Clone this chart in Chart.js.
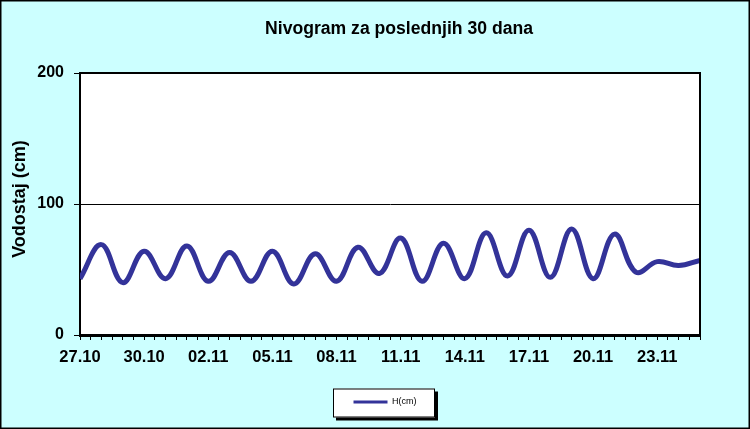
<!DOCTYPE html>
<html lang="sr">
<head>
<meta charset="UTF-8">
<title>Nivogram</title>
<script src="https://cdn.jsdelivr.net/npm/chart.js"></script>
<style>
  html, body { margin: 0; padding: 0; background: #ccffff; }
  #wrap { width: 750px; height: 429px; }
  canvas { display: block; background: #ccffff; }
</style>
</head>
<body>
<div id="wrap"><canvas id="chart" width="750" height="429"></canvas></div>
<script>
// datumi (jedan po danu)
const dates = ['27.10','28.10','29.10','30.10','31.10','01.11','02.11','03.11','04.11','05.11',
  '06.11','07.11','08.11','09.11','10.11','11.11','12.11','13.11','14.11','15.11',
  '16.11','17.11','18.11','19.11','20.11','21.11','22.11','23.11','24.11','25.11'];
// vodostaj H (cm)
const levels = [43, 69, 40, 64, 43, 68, 41, 63, 41, 64, 39, 62, 41, 67, 47, 74, 41, 70, 43, 78,
  45, 80, 44, 81, 43, 77, 48, 56, 53, 57];
const yTicks = [0, 100, 200];

const FONT = "Arial, 'Liberation Sans', sans-serif";

const frame = {
  id: 'frame',
  afterLayout(chart) {
    // pomjeri naslov i legendu kao u originalu
    chart.titleBlock.left += 49; chart.titleBlock.right += 49;
    chart.legend.left += 35; chart.legend.right += 35;
  },
  beforeDraw(chart) {
    const {ctx, chartArea: a, legend} = chart;
    ctx.save();
    ctx.fillStyle = '#ffffff';
    ctx.fillRect(a.left, a.top, a.right - a.left, a.bottom - a.top);
    // okvir legende sa sjenkom
    const cx = (legend.left + legend.right) / 2;
    const bx = cx - 52, by = legend.top + 1, bw = 102, bh = 29;
    ctx.fillStyle = '#000';
    ctx.fillRect(bx + 3, by + 3, bw, bh);
    ctx.fillStyle = '#fff';
    ctx.fillRect(bx, by, bw, bh);
    ctx.strokeStyle = '#000';
    ctx.lineWidth = 1;
    ctx.strokeRect(bx + 0.5, by + 0.5, bw - 1, bh - 1);
    ctx.restore();
  },
  afterDraw(chart) {
    const {ctx, chartArea: a} = chart;
    ctx.save();
    ctx.strokeStyle = '#000';
    ctx.lineWidth = 2;
    ctx.beginPath();
    ctx.moveTo(a.left, a.top); ctx.lineTo(a.right, a.top); ctx.lineTo(a.right, a.bottom);
    ctx.stroke();
    ctx.lineWidth = 1.5;
    ctx.strokeRect(0.75, 0.75, chart.width - 1.5, chart.height - 1.5);
    ctx.restore();
  }
};

new Chart(document.getElementById('chart'), {
  type: 'line',
  data: {
    datasets: [{
      label: 'H(cm)',
      data: levels.map((v, i) => ({x: i, y: v})),
      borderColor: '#333399',
      backgroundColor: '#333399',
      borderWidth: 5,
      pointRadius: 0,
      tension: 0.4,
      fill: false
    }]
  },
  options: {
    responsive: false,
    animation: false,
    parsing: false,
    layout: { padding: { left: 0, right: 50, top: 0, bottom: 12.5 } },
    scales: {
      x: {
        type: 'linear',
        min: 0, max: dates.length - 1,
        afterFit(s) { s.height = 52.5; },
        grid: { drawOnChartArea: false, tickLength: 5, tickColor: '#000', tickWidth: 1 },
        border: { color: '#000', width: 3 },
        ticks: {
          stepSize: 0.5, autoSkip: false, maxRotation: 0, padding: 8,
          color: '#000', font: { family: FONT, size: 16.5, weight: 'bold' },
          callback: v => (Number.isInteger(v) && v % 3 === 0) ? dates[v] : ''
        }
      },
      y: {
        min: yTicks[0], max: yTicks[yTicks.length - 1],
        afterFit(s) { s.width = 80; },
        afterBuildTicks(s) { s.ticks = yTicks.map(v => ({value: v})); },
        grid: { color: '#000', lineWidth: 1, tickLength: 6, tickColor: '#000' },
        border: { color: '#000', width: 2 },
        ticks: { padding: 10, color: '#000', font: { family: FONT, size: 16, weight: 'bold' } },
        title: {
          display: true, text: '  Vodostaj (cm)', color: '#000',
          font: { family: FONT, size: 18, weight: 'bold' },
          padding: { top: 9, bottom: 0 }
        }
      }
    },
    plugins: {
      title: {
        display: true,
        text: 'Nivogram za poslednjih 30 dana',
        color: '#000',
        font: { family: FONT, size: 17.6, weight: 'bold' },
        padding: { top: 18.5, bottom: 33.4 }
      },
      legend: {
        position: 'bottom',
        labels: {
          color: '#000',
          font: { family: FONT, size: 9 },
          padding: 10,
          usePointStyle: true,
          pointStyle: 'line',
          pointStyleWidth: 34,
          generateLabels: c => Chart.defaults.plugins.legend.labels.generateLabels(c)
            .map(l => ({...l, lineWidth: 3}))
        }
      },
      tooltip: { enabled: false }
    }
  },
  plugins: [frame]
});
</script>
</body>
</html>
